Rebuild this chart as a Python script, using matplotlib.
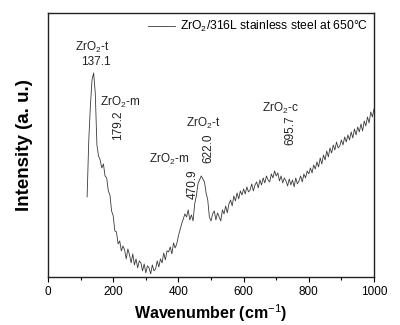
import numpy as np
import matplotlib
matplotlib.use("Agg")
import matplotlib.pyplot as plt

plt.rcParams['font.family'] = ['Liberation Sans', 'DejaVu Sans']
plt.rcParams['mathtext.fontset'] = 'custom'
plt.rcParams['mathtext.rm'] = 'Liberation Sans'

# Raman spectrum, wavenumber in cm^-1 (step 5)
wavenumber = np.arange(120, 1001, 5)
intensity = [
    80, 136, 171, 197, 204, 184, 132, 121, 117, 109, 113, 101, 99, 86, 82, 66,
    61, 46, 45, 33, 36, 26, 31, 27, 18, 28, 22, 14, 23, 12, 18, 9,
    16, 14, 6, 13, 4, 11, 9, 3, 12, 6, 8, 16, 10, 18, 14, 24,
    17, 26, 25, 30, 23, 34, 29, 33, 41, 47, 53, 58, 63, 60, 67, 57,
    62, 56, 73, 81, 93, 97, 101, 98, 95, 84, 77, 60, 56, 63, 66, 57,
    64, 60, 56, 67, 63, 71, 64, 73, 77, 71, 81, 76, 84, 78, 86, 82,
    88, 83, 90, 85, 87, 93, 86, 92, 95, 89, 97, 92, 99, 94, 101, 97,
    95, 103, 99, 106, 101, 104, 96, 101, 94, 99, 96, 91, 98, 92, 97, 90,
    99, 93, 96, 101, 95, 103, 99, 106, 103, 109, 104, 112, 108, 115, 110, 119,
    113, 122, 117, 126, 120, 129, 124, 132, 127, 135, 129, 131, 137, 132, 140, 135,
    142, 137, 145, 139, 148, 142, 150, 145, 153, 146, 156, 151, 160, 154, 165, 160,
    168,
]

# Peak assignments: (label, x, y, rotation, horizontal alignment)
phase_labels = [
    ("ZrO$_2$-t", 135, 230, 0, "center"),
    ("ZrO$_2$-m", 160, 175, 0, "left"),
    ("ZrO$_2$-m", 311, 117, 0, "left"),
    ("ZrO$_2$-t", 477, 154, 0, "center"),
    ("ZrO$_2$-c", 714, 169, 0, "center"),
]
peak_labels = [
    ("137.1", 148, 215, 0),
    ("179.2", 215, 152, 90),
    ("470.9", 443, 93, 90),
    ("622.0", 492, 129, 90),
    ("695.7", 745, 147, 90),
]

fig = plt.figure(figsize=(4.0, 3.25), dpi=100)
ax = fig.add_axes([0.12, 0.148, 0.815, 0.812])

ax.plot(wavenumber, intensity, color="#3a3a3a", lw=0.6,
        label="ZrO$_2$/316L stainless steel at 650°C")

for text, x, y, rot, ha in phase_labels:
    ax.text(x, y, text, rotation=rot, ha=ha, va="center", fontsize=8.5,
            color="#222222")
for text, x, y, rot in peak_labels:
    ax.text(x, y, text, rotation=rot, ha="center", va="center", fontsize=8.5,
            color="#222222")

ax.set_xlim(0, 1000)
ax.set_ylim(0, 264)
ax.set_xticks(range(0, 1001, 200))
ax.set_xticks(range(100, 1000, 200), minor=True)
ax.set_yticks([])
ax.tick_params(axis="x", which="major", direction="out", length=3.5,
               width=0.8, labelsize=8.5, pad=3)
ax.tick_params(axis="x", which="minor", direction="out", length=2.5, width=0.8)
for s in ax.spines.values():
    s.set_linewidth(1.0)
    s.set_color("#222222")

ax.set_xlabel("Wavenumber (cm$^{-1}$)", fontsize=11.5, fontweight="bold",
              labelpad=3)
ax.set_ylabel("Intensity (a. u.)", fontsize=13.5, fontweight="bold",
              labelpad=11)

leg = ax.legend(loc="upper right", frameon=False, fontsize=8.7,
                handlelength=2.2, handletextpad=0.4, borderaxespad=0.1)

fig.savefig("out.png", dpi=100)
